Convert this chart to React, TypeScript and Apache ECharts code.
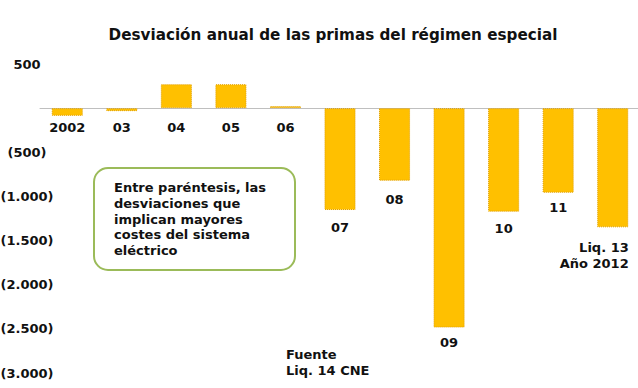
import React, { useEffect, useRef } from "react";
import * as echarts from "echarts";

const categories = ["2002", "03", "04", "05", "06", "07", "08", "09", "10", "11", "Liq. 13\nAño 2012"];
const values = [-87, -34, 271, 271, 23, -1154, -822, -2485, -1173, -958, -1350];
const yTickLabels: Record<string, string> = {
  "500": "500",
  "0": "",
  "-500": "(500)",
  "-1000": "(1.000)",
  "-1500": "(1.500)",
  "-2000": "(2.000)",
  "-2500": "(2.500)",
  "-3000": "(3.000)",
};
const titleText = "Desviación anual de las primas del régimen especial";
const noteText = "Entre paréntesis, las\ndesviaciones que\nimplican mayores\ncostes del sistema\neléctrico";
const sourceText = "Fuente\nLiq. 14 CNE";

const FONT = "'DejaVu Sans', Verdana, sans-serif";
const labelDistances = [5, 10, 13, 13, 13, 11, 12, 8, 10, 8, 12];

export default function App() {
  const ref = useRef<HTMLDivElement>(null);
  useEffect(() => {
    if (!ref.current) return;
    const chart = echarts.init(ref.current, null, { renderer: "svg" });
    const data = values.map((v, i) => {
      const item: any = { value: v };
      if (i === categories.length - 1) {
        item.label = {
          show: true,
          position: "bottom",
          distance: labelDistances[i],
          align: "right",
          offset: [16, 0],
          lineHeight: 16,
        };
      } else if (v >= 0) {
        // positive bars: label sits below the zero line
        item.label = { show: true, position: "insideBottom", distance: -labelDistances[i] - 13 };
      } else {
        item.label = { show: true, position: "bottom", distance: labelDistances[i] };
      }
      return item;
    });
    chart.setOption({
      animation: false,
      backgroundColor: "#ffffff",
      textStyle: { fontFamily: FONT },
      title: {
        text: titleText,
        left: 328,
        top: 22,
        textAlign: "center",
        textStyle: { fontFamily: FONT, fontSize: 15.2, fontWeight: "bold", color: "#111111" },
      },
      grid: { left: 40, right: -2, top: 64, bottom: 15, containLabel: false, outerBoundsMode: "none" },
      xAxis: {
        type: "category",
        data: categories,
        axisLine: { show: true, onZero: true, lineStyle: { color: "#BFBFBF", width: 1 } },
        axisTick: { show: false },
        axisLabel: { show: false },
        splitLine: { show: false },
      },
      yAxis: {
        type: "value",
        min: -3000,
        max: 500,
        interval: 500,
        axisLine: { show: false },
        axisTick: { show: false },
        splitLine: { show: false },
        axisLabel: {
          margin: 13,
          align: "center",
          fontFamily: FONT,
          fontSize: 13,
          fontWeight: "bold",
          color: "#111111",
          formatter: (v: number) => yTickLabels[String(v)] ?? "",
        },
      },
      series: [
        {
          type: "bar",
          data,
          barCategoryGap: "43%",
          itemStyle: {
            color: "#FFC000",
            borderColor: "#E0A000",
            borderWidth: 1,
            borderType: "dotted",
          },
          label: {
            show: true,
            fontFamily: FONT,
            fontSize: 13,
            fontWeight: "bold",
            color: "#111111",
            formatter: (p: any) => categories[p.dataIndex],
          },
        },
      ],
      graphic: [
        {
          type: "rect",
          left: 93,
          top: 167,
          shape: { width: 201, height: 102, r: 14 },
          style: { fill: "#ffffff", stroke: "#9BBB59", lineWidth: 2 },
          z: 10,
        },
        {
          type: "text",
          left: 114,
          top: 180,
          style: {
            text: noteText,
            fontFamily: FONT,
            fontSize: 13,
            fontWeight: "bold",
            fill: "#111111",
            lineHeight: 15.7,
          },
          z: 11,
        },
        {
          type: "text",
          left: 286,
          top: 346,
          style: {
            text: sourceText,
            fontFamily: FONT,
            fontSize: 13,
            fontWeight: "bold",
            fill: "#111111",
            lineHeight: 16,
          },
          z: 11,
        },
      ],
    });
    return () => chart.dispose();
  }, []);
  return (
    <div
      ref={ref}
      style={{ position: "absolute", left: 0, top: 0, width: 638, height: 388 }}
    />
  );
}
